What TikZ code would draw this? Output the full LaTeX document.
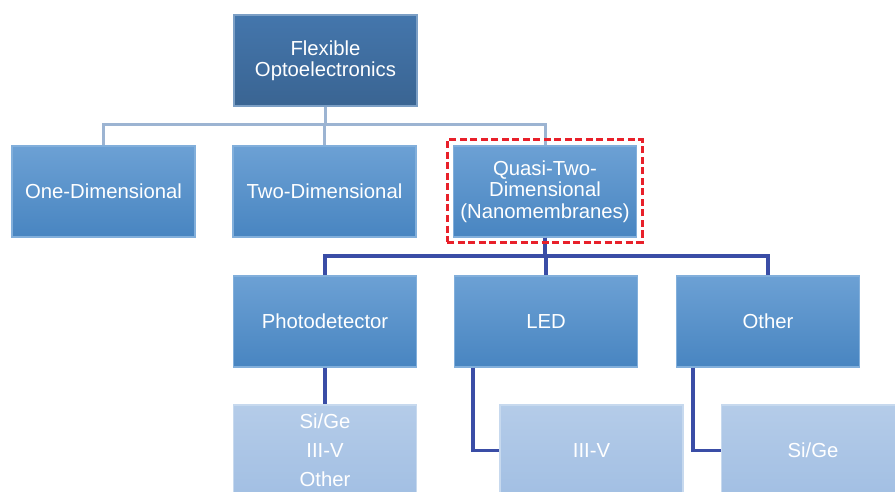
\documentclass[tikz,border=0pt]{standalone}
\usepackage{fontspec}
\setmainfont{Liberation Sans}
\begin{document}
\begin{tikzpicture}[x=1pt,y=-1pt,
  box/.style={rectangle, minimum width=183pt, minimum height=91pt, inner sep=2pt,
    align=center, text=white, font=\fontsize{20.3}{21.3}\selectfont,
    draw=#1, line width=1.2pt},
  topbox/.style={box=#1!70!white, top color=#1, bottom color=#1!85!black},
  topbox/.default=topblue,
  midbox/.style={box=midblue!70!white, top color=midblue!82!white, bottom color=midblue!95!black},
  leafbox/.style={box=leafblue!60!white, top color=leafblue!80!white, bottom color=leafblue,
    font=\fontsize{20.3}{29}\selectfont},
  lightline/.style={draw=lightline, line width=3pt},
  darkline/.style={draw=darkline, line width=3.8pt},
  focus/.style={draw=focusred, line width=3pt, dash pattern=on 7pt off 3.5pt}
]
\definecolor{topblue}{HTML}{4476AC}
\definecolor{midblue}{HTML}{4C8CCB}
\definecolor{leafblue}{HTML}{A2BFE3}
\definecolor{lightline}{HTML}{9CB4D2}
\definecolor{darkline}{HTML}{3A4DA6}
\definecolor{focusred}{HTML}{E8202A}
\useasboundingbox (0,0) rectangle (895,492);
\fill[white] (0,0) rectangle (895,492);
\begin{scope}
\clip (0,0) rectangle (895,492);
% nodes
\node[topbox] (top) at (325.5,60.5) {Flexible\\Optoelectronics};
\node[midbox] (one) at (103.5,191.5) {One-Dimensional};
\node[midbox] (two) at (324.5,191.5) {Two-Dimensional};
\node[midbox] (quasi) at (545,191.5) {Quasi-Two-\\Dimensional\\(Nanomembranes)};
\node[midbox] (photo) at (325,321.5) {Photodetector};
\node[midbox] (led) at (546,321.5) {LED};
\node[midbox] (other) at (768,321.5) {Other};
\node[leafbox] (sub1) at (325,450.5) {Si/Ge\\III-V\\Other};
\node[leafbox] (sub2) at (591.5,450.5) {III-V};
\node[leafbox] (sub3) at (813,450.5) {Si/Ge};
% connectors
\draw[lightline] (top.south) -- ++(0,18) -| (one.north);
\draw[lightline] (top.south) -- ++(0,18) -| (two.north);
\draw[lightline] (top.south) -- ++(0,18) -| (quasi.north);
\draw[darkline] (quasi.south) -- ++(0,18) -| (photo.north);
\draw[darkline] (quasi.south) -- ++(0,18) -| (led.north);
\draw[darkline] (quasi.south) -- ++(0,18) -| (other.north);
\draw[darkline] (photo.south) -- (sub1.north);
\draw[darkline] ([xshift=19pt]led.south west) |- (sub2.west);
\draw[darkline] ([xshift=17pt]other.south west) |- (sub3.west);
% highlight
\node[focus, minimum width=195pt, minimum height=102pt] (hl) at (544.5,191) {};
\end{scope}
\end{tikzpicture}
\end{document}
